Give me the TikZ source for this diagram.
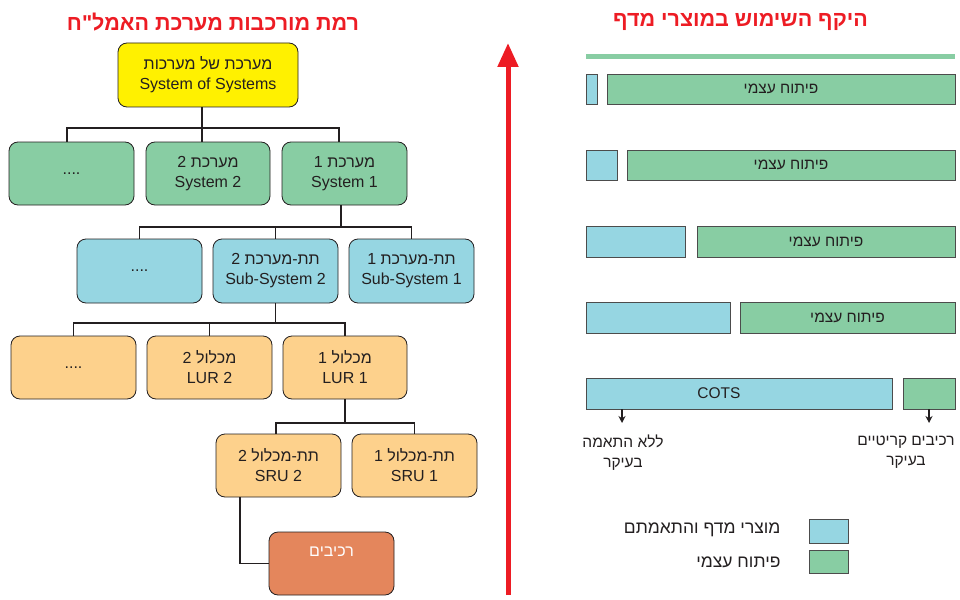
\documentclass[tikz,border=0pt]{standalone}
\usepackage{fontspec}
\setmainfont{Liberation Sans}
\newfontfamily\hebfont[Script=Hebrew]{Liberation Sans}
\TeXXeTstate=1
\usetikzlibrary{arrows.meta}
\newcommand\heb[1]{{\hebfont\beginR #1\endR}}
\definecolor{cgreen}{HTML}{88CDA3}
\definecolor{cblue}{HTML}{96D6E2}
\definecolor{ctan}{HTML}{FDD18C}
\definecolor{cyellow}{HTML}{FFF100}
\definecolor{corange}{HTML}{E4865C}
\definecolor{cred}{HTML}{ED1C24}
\definecolor{cline}{HTML}{231F20}
\begin{document}
\begin{tikzpicture}[x=1pt,y=-1pt,font=\fontsize{15.5}{20}\selectfont,
  box/.style={draw=cline,line width=0.8pt,rounded corners=9pt,minimum width=125pt,minimum height=63pt,align=center,inner sep=0pt,text=cline,font=\fontsize{16}{20}\selectfont},
  conn/.style={draw=cline,line width=1.8pt},
  bar/.style={draw=black!70,line width=0.8pt,minimum height=30pt,inner sep=0pt,text=cline},
  ttl/.style={text=cred,font=\fontsize{21.5}{24}\selectfont\bfseries},
  lbl/.style={text=cline,align=center},
  key/.style={text=cline,anchor=east,font=\fontsize{17.5}{20}\selectfont}]
\useasboundingbox (0,0) rectangle (960,599);
% titles
\node[ttl] (tl) at (213,22) {\heb{רמת מורכבות מערכת האמל"ח}};
\node[ttl] (tr) at (740.5,22) {\heb{היקף השימוש במוצרי מדף}};
% tree
\node[box,fill=cyellow,minimum width=180pt,minimum height=64pt] (top) at (208,75) {\heb{מערכת של מערכות}\\System of Systems};
\node[box,fill=cgreen] (sysdots) at (71.5,173.5) {....};
\node[box,fill=cgreen,minimum width=124pt] (sys2) at (208,173.5) {\heb{מערכת 2}\\System 2};
\node[box,fill=cgreen] (sys1) at (344.5,173.5) {\heb{מערכת 1}\\System 1};
\node[box,fill=cblue,minimum height=64pt] (ssdots) at (139.5,271) {....};
\node[box,fill=cblue,minimum height=64pt] (ss2) at (275.5,271) {\heb{תת-מערכת 2}\\Sub-System 2};
\node[box,fill=cblue,minimum height=64pt] (ss1) at (411.5,271) {\heb{תת-מערכת 1}\\Sub-System 1};
\node[box,fill=ctan] (ludots) at (73.5,367.5) {....};
\node[box,fill=ctan] (lur2) at (209.5,367.5) {\heb{מכלול 2}\\LUR 2};
\node[box,fill=ctan,minimum width=124pt] (lur1) at (345,367.5) {\heb{מכלול 1}\\LUR 1};
\node[box,fill=ctan] (sru2) at (278.5,465.5) {\heb{תת-מכלול 2}\\SRU 2};
\node[box,fill=ctan] (sru1) at (414.5,465.5) {\heb{תת-מכלול 1}\\SRU 1};
\node[box,fill=corange,label={[text=white,yshift=11.5pt,font=\fontsize{16}{20}\selectfont]center:\heb{רכיבים}}] (comp) at (331.5,563.5) {};
% connectors
\coordinate (j0) at (202,128);
\draw[conn] ([xshift=-6pt]top.south) -- (j0);
\draw[conn] ([xshift=-4.5pt]sysdots.north) |- (j0) -| ([xshift=-5.5pt]sys1.north);
\draw[conn] ([xshift=-6pt]sys2.north) -- (j0);
\coordinate (j1) at (341,227);
\draw[conn] ([xshift=-3.5pt]sys1.south) -- (j1);
\draw[conn] (ssdots.north) |- (j1) -| (ss1.north);
\draw[conn] (ss2.north) -- (ss2.north |- j1);
\coordinate (j2) at (275.5,323);
\draw[conn] (ss2.south) -- (j2);
\draw[conn] (ludots.north) |- (j2) -| (lur1.north);
\draw[conn] (lur2.north) -- (lur2.north |- j2);
\coordinate (j3) at (345,423);
\draw[conn] (lur1.south) -- (j3);
\draw[conn] ([xshift=-2.5pt]sru2.north) |- (j3) -| (sru1.north);
\draw[conn] ([xshift=-38.5pt]sru2.south) |- (comp.west);
% red arrow
\coordinate (ra) at (508,595);
\coordinate (rb) at (508,43);
\draw[cred,line width=5pt,-{Triangle[width=20pt,length=24pt]}] (ra) -- (rb);
% right side
\draw[cgreen,line width=5pt] (586,57) -- (955,57);
\node[bar,fill=cblue,minimum width=11pt] (b1) at (591.5,89) {};
\node[bar,fill=cgreen,minimum width=348pt] (g1) at (781,89) {\heb{פיתוח עצמי}};
\node[bar,fill=cblue,minimum width=31pt] (b2) at (601.5,165) {};
\node[bar,fill=cgreen,minimum width=328pt] (g2) at (791,165) {\heb{פיתוח עצמי}};
\node[bar,fill=cblue,minimum width=99pt,minimum height=31pt] (b3) at (635.5,241.5) {};
\node[bar,fill=cgreen,minimum width=258pt,minimum height=31pt] (g3) at (826,241.5) {\heb{פיתוח עצמי}};
\node[bar,fill=cblue,minimum width=144pt,minimum height=31pt] (b4) at (658,317.5) {};
\node[bar,fill=cgreen,minimum width=215pt,minimum height=31pt] (g4) at (847.5,317.5) {\heb{פיתוח עצמי}};
\node[bar,fill=cblue,minimum width=306pt,minimum height=31pt,label={[xshift=-20pt,text=cline]center:COTS}] (b5) at (739,393.5) {};
\node[bar,fill=cgreen,minimum width=52pt,minimum height=31pt] (g5) at (929,393.5) {};
\coordinate (a1) at (622,423);
\coordinate (a2) at (929,423);
\draw[cline,line width=1.2pt,-{Stealth[length=7pt,width=7pt]}] (b5.south -| a1) -- (a1);
\draw[cline,line width=1.2pt,-{Stealth[length=7pt,width=7pt]}] (g5.south) -- (a2);
\node[lbl] (l1) at (623,452.5) {\heb{ללא התאמה}\\\heb{בעיקר}};
\node[lbl] (l2) at (906,452.5) {\heb{רכיבים קריטיים}\\\heb{בעיקר}};
% legend
\node[bar,fill=cblue,minimum width=39pt,minimum height=24pt] (kb) at (828.5,531) {};
\node[bar,fill=cgreen,minimum width=39pt,minimum height=23pt] (kg) at (828.5,561.5) {};
\node[key] (kbt) at (784,530) {\heb{מוצרי מדף והתאמתם}};
\node[key] (kgt) at (784,562) {\heb{פיתוח עצמי}};
\end{tikzpicture}
\end{document}
